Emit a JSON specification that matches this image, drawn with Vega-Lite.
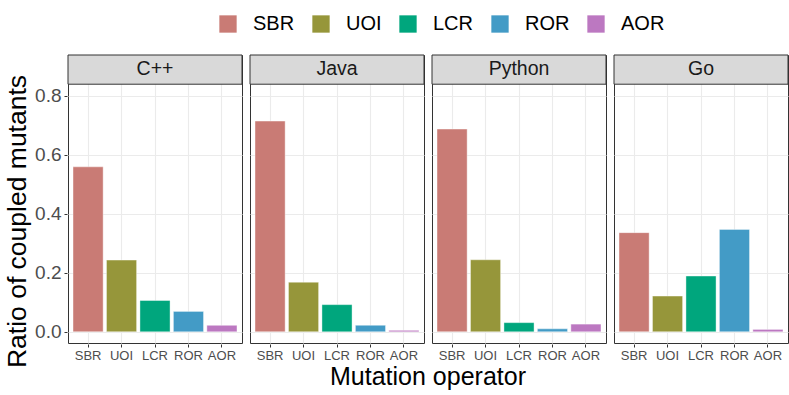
{
  "$schema": "https://vega.github.io/schema/vega-lite/v6.json",
  "padding": {"left": 4, "top": 14, "right": 6, "bottom": 0},
  "background": "white",
  "data": {"values": [
    {"lang": "C++", "op": "SBR", "value": 0.559},
    {"lang": "C++", "op": "UOI", "value": 0.243},
    {"lang": "C++", "op": "LCR", "value": 0.106},
    {"lang": "C++", "op": "ROR", "value": 0.069},
    {"lang": "C++", "op": "AOR", "value": 0.022},
    {"lang": "Java", "op": "SBR", "value": 0.714},
    {"lang": "Java", "op": "UOI", "value": 0.168},
    {"lang": "Java", "op": "LCR", "value": 0.092},
    {"lang": "Java", "op": "ROR", "value": 0.022},
    {"lang": "Java", "op": "AOR", "value": 0.005},
    {"lang": "Python", "op": "SBR", "value": 0.687},
    {"lang": "Python", "op": "UOI", "value": 0.244},
    {"lang": "Python", "op": "LCR", "value": 0.031},
    {"lang": "Python", "op": "ROR", "value": 0.010},
    {"lang": "Python", "op": "AOR", "value": 0.026},
    {"lang": "Go", "op": "SBR", "value": 0.336},
    {"lang": "Go", "op": "UOI", "value": 0.121},
    {"lang": "Go", "op": "LCR", "value": 0.189},
    {"lang": "Go", "op": "ROR", "value": 0.347},
    {"lang": "Go", "op": "AOR", "value": 0.008}
  ]},
  "facet": {
    "column": {
      "field": "lang",
      "type": "nominal",
      "sort": ["C++", "Java", "Python", "Go"],
      "title": "Mutation operator",
      "header": {
        "labels": false,
        "titleOrient": "bottom",
        "titleFont": "Liberation Sans",
        "titleFontSize": 25,
        "titleFontWeight": "normal",
        "titleColor": "black",
        "titlePadding": -7
      }
    }
  },
  "spacing": 6,
  "spec": {
    "width": 174,
    "height": 288,
    "layer": [
      {
        "mark": {"type": "bar", "stroke": "white", "strokeWidth": 0.4},
        "encoding": {
          "x": {
            "field": "op",
            "type": "nominal",
            "sort": ["SBR", "UOI", "LCR", "ROR", "AOR"],
            "scale": {"paddingInner": 0.1, "paddingOuter": 0.15},
            "axis": {
              "title": null,
              "labelAngle": 0,
              "labelFont": "Liberation Sans",
              "labelFontSize": 13,
              "labelColor": "#4D4D4D",
              "labelPadding": 2,
              "tickSize": 3,
              "tickColor": "#333333",
              "domain": false,
              "grid": true,
              "gridColor": "#EBEBEB",
              "gridWidth": 1.1
            }
          },
          "y": {
            "field": "value",
            "type": "quantitative",
            "scale": {"domain": [-0.038, 0.938], "nice": false, "zero": false},
            "axis": {
              "title": "Ratio of coupled mutants",
              "titleFont": "Liberation Sans",
              "titleFontSize": 26.5,
              "titleFontWeight": "normal",
              "titleColor": "black",
              "titleY": 166,
              "titlePadding": 3,
              "values": [0, 0.1, 0.2, 0.3, 0.4, 0.5, 0.6, 0.7, 0.8],
              "labelExpr": "round(datum.value*10)%2==0 ? format(datum.value, '.1f') : ''",
              "labelFont": "Liberation Sans",
              "labelFontSize": 19,
              "labelColor": "#4D4D4D",
              "labelPadding": 3,
              "tickSize": 3,
              "tickColor": "#333333",
              "tickOpacity": {"condition": {"test": "round(datum.value*10)%2==1", "value": 0}, "value": 1},
              "domain": false,
              "grid": true,
              "gridColor": "#EBEBEB",
              "gridWidth": {"condition": {"test": "round(datum.value*10)%2==1", "value": 0.55}, "value": 1.1}
            }
          },
          "y2": {"datum": 0},
          "color": {
            "field": "op",
            "type": "nominal",
            "sort": ["SBR", "UOI", "LCR", "ROR", "AOR"],
            "scale": {
              "domain": ["SBR", "UOI", "LCR", "ROR", "AOR"],
              "range": ["#C97B75", "#96963A", "#00A67D", "#439BC6", "#BC78C1"]
            },
            "legend": {
              "title": null,
              "orient": "none",
              "legendX": 150,
              "legendY": -41,
              "direction": "horizontal",
              "symbolType": "square",
              "symbolSize": 300,
              "symbolStrokeWidth": 0,
              "symbolOpacity": 1,
              "labelFont": "Liberation Sans",
              "labelFontSize": 20,
              "labelColor": "black",
              "labelOffset": 15,
              "columnPadding": 16
            }
          }
        }
      },
      {
        "transform": [{"aggregate": [{"op": "count", "as": "n"}], "groupby": ["lang"]}],
        "mark": {"type": "rect", "fill": "#D9D9D9", "stroke": "#333333", "strokeWidth": 1},
        "encoding": {
          "y": {"datum": 0.839},
          "y2": {"datum": 0.938}
        }
      },
      {
        "transform": [{"aggregate": [{"op": "count", "as": "n"}], "groupby": ["lang"]}],
        "mark": {"type": "text", "font": "Liberation Sans", "fontSize": 19.5, "color": "#1A1A1A", "baseline": "middle"},
        "encoding": {
          "y": {"datum": 0.889},
          "text": {"field": "lang"}
        }
      }
    ]
  },
  "config": {
    "view": {"stroke": "#333333", "strokeWidth": 1},
    "axis": {"labelFlush": false}
  }
}
